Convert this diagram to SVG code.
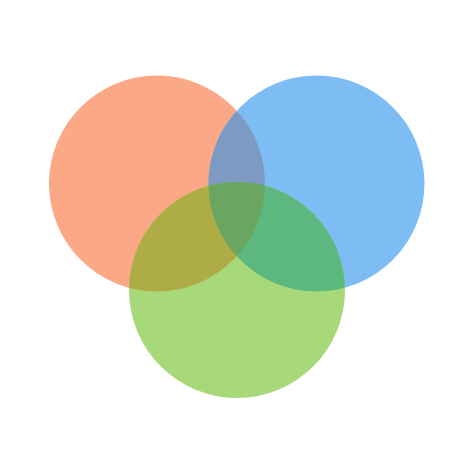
<svg xmlns="http://www.w3.org/2000/svg" width="474" height="474" viewBox="0 0 474 474">
<defs>
<clipPath id="cO"><circle cx="157" cy="183.5" r="108"/></clipPath>
<clipPath id="cB"><circle cx="316.5" cy="183.5" r="108"/></clipPath>
<clipPath id="cG"><circle cx="237" cy="290" r="108"/></clipPath>
</defs>
<rect width="474" height="474" fill="#ffffff"/>
<g id="orange"><circle cx="157" cy="183.5" r="108" fill="#FBA886"/></g>
<g id="blue"><circle cx="316.5" cy="183.5" r="108" fill="#7DBDF4"/></g>
<g id="green"><circle cx="237" cy="290" r="108" fill="#A7D97A"/></g>
<g id="overlaps">
<circle cx="316.5" cy="183.5" r="108" fill="#7D9AC4" clip-path="url(#cO)"/>
<circle cx="237" cy="290" r="108" fill="#AEAD45" clip-path="url(#cO)"/>
<circle cx="237" cy="290" r="108" fill="#5DB87F" clip-path="url(#cB)"/>
<g clip-path="url(#cO)"><circle cx="237" cy="290" r="108" fill="#6AA661" clip-path="url(#cB)"/></g>
</g>
</svg>
